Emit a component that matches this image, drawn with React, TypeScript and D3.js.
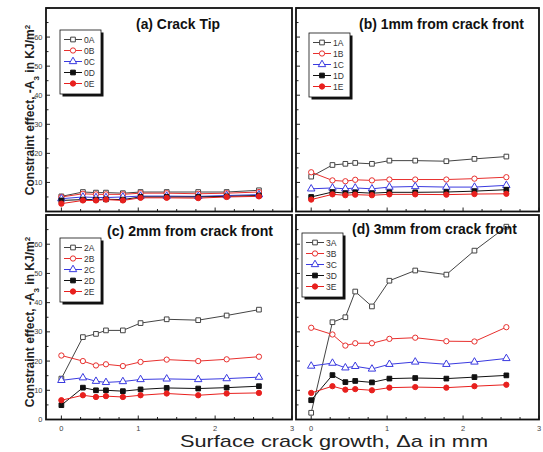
import React from "react";
import * as d3 from "d3";

// crack growth positions (mm), shared by all curves
const growth = [0, 0.28, 0.45, 0.58, 0.8, 1.03, 1.37, 1.78, 2.15, 2.57];

// (a) crack tip
const s0A = [5.2, 6.7, 6.5, 6.5, 6.3, 6.7, 6.7, 6.7, 6.7, 7.3];
const s0B = [5.0, 6.1, 5.9, 5.9, 5.9, 6.3, 6.3, 6.1, 6.3, 6.7];
const s0C = [4.4, 5.0, 4.8, 4.8, 5.0, 5.3, 5.3, 5.2, 5.5, 5.8];
const s0D = [3.8, 4.1, 4.1, 4.2, 4.1, 5.0, 5.0, 5.0, 5.2, 5.5];
const s0E = [2.7, 3.8, 3.8, 4.1, 3.8, 4.7, 4.7, 4.6, 5.0, 5.2];

// (b) 1mm from crack front
const s1A = [12.0, 16.0, 16.4, 16.7, 16.4, 17.5, 17.5, 17.3, 18.1, 18.9];
const s1B = [13.5, 10.7, 10.4, 10.9, 10.7, 11.0, 11.0, 11.0, 11.3, 11.8];
const s1C = [7.8, 8.1, 7.8, 8.1, 7.8, 8.4, 8.6, 8.4, 8.4, 9.0];
const s1D = [5.0, 6.7, 6.3, 6.6, 6.3, 6.6, 6.6, 6.7, 7.0, 7.5];
const s1E = [4.1, 5.9, 5.6, 5.8, 5.6, 5.9, 5.9, 5.8, 6.0, 6.1];

// (c) 2mm from crack front
const s2A = [14.0, 28.2, 29.3, 30.5, 30.5, 33.0, 34.3, 34.0, 35.6, 37.6];
const s2B = [21.9, 20.0, 18.5, 18.9, 18.3, 19.7, 20.5, 20.0, 20.6, 21.5];
const s2C = [13.4, 14.3, 13.1, 12.7, 13.0, 13.7, 13.9, 13.7, 14.0, 14.5];
const s2D = [4.9, 10.9, 10.0, 10.0, 9.7, 10.3, 10.8, 10.6, 10.9, 11.4];
const s2E = [6.6, 8.3, 7.7, 8.0, 7.7, 8.3, 8.9, 8.3, 8.9, 9.1];

// (d) 3mm from crack front
const s3A = [2.3, 33.3, 35.0, 43.8, 38.7, 47.5, 51.0, 49.6, 57.8, 66.0];
const s3B = [31.4, 29.1, 25.3, 26.1, 26.1, 27.6, 28.0, 26.8, 26.7, 31.6];
const s3C = [18.3, 19.3, 17.7, 18.2, 17.3, 18.9, 19.7, 18.9, 19.7, 20.9];
const s3D = [6.6, 15.2, 12.8, 13.2, 12.7, 14.0, 14.2, 14.0, 14.5, 15.1];
const s3E = [9.1, 11.4, 10.2, 10.4, 10.0, 10.9, 11.1, 10.9, 11.4, 11.9];

const xTicks = [0, 1, 2, 3];

const styles = [
  { color: "#444", symbol: d3.symbolSquare, open: true },
  { color: "#e8302e", symbol: d3.symbolCircle, open: true },
  { color: "#3a3ae0", symbol: d3.symbolTriangle, open: true },
  { color: "#111", symbol: d3.symbolSquare, open: false },
  { color: "#e8201e", symbol: d3.symbolCircle, open: false },
];

const panels = [
  {
    title: "(a) Crack Tip", tx: 136, ty: 29, tw: 84,
    x0: 46, x1: 292, y0: 211.5, y1: 8,
    names: ["0A", "0B", "0C", "0D", "0E"], series: [s0A, s0B, s0C, s0D, s0E],
    legend: [60, 30], yLabels: [10, 20, 30, 40, 50, 60], xLabels: false,
  },
  {
    title: "(b) 1mm from crack front", tx: 359, ty: 29, tw: 165,
    x0: 296, x1: 539, y0: 211.5, y1: 8,
    names: ["1A", "1B", "1C", "1D", "1E"], series: [s1A, s1B, s1C, s1D, s1E],
    legend: [309, 33], yLabels: [], xLabels: false,
  },
  {
    title: "(c) 2mm from crack front", tx: 107, ty: 236, tw: 166,
    x0: 46, x1: 292, y0: 419.5, y1: 215,
    names: ["2A", "2B", "2C", "2D", "2E"], series: [s2A, s2B, s2C, s2D, s2E],
    legend: [60, 238], yLabels: [0, 10, 20, 30, 40, 50, 60], xLabels: true,
  },
  {
    title: "(d) 3mm from crack front", tx: 352, ty: 234, tw: 165,
    x0: 296, x1: 539, y0: 419.5, y1: 215,
    names: ["3A", "3B", "3C", "3D", "3E"], series: [s3A, s3B, s3C, s3D, s3E],
    legend: [302, 233], yLabels: [], xLabels: true,
  },
];

const font = "'Liberation Sans', Arial, sans-serif";

function Marker({ x, y, st }: any) {
  const d = d3.symbol().type(st.symbol).size(st.symbol === d3.symbolTriangle ? 24 : 22)();
  return (
    <path
      d={d || ""}
      transform={`translate(${x},${y})`}
      fill={st.open ? "#fff" : st.color}
      stroke={st.color}
      strokeWidth={1}
    />
  );
}

function Panel({ p }: any) {
  const x = d3.scaleLinear().domain([-0.2, 3]).range([p.x0, p.x1]);
  const y = d3.scaleLinear().domain([0, 70]).range([p.y0, p.y1]);
  const line = d3.line<number>().x((_, i) => x(growth[i])).y((d) => y(d));
  const minorX = d3.range(0, 3.01, 0.25);
  const minorY = d3.range(0, 70.1, 5);
  const [lx, ly] = p.legend;
  const rowH = 11;

  return (
    <g>
      <defs>
        <clipPath id={`clip-${p.names[0]}`}>
          <rect x={p.x0} y={p.y1} width={p.x1 - p.x0} height={p.y0 - p.y1} />
        </clipPath>
      </defs>
      {/* ticks, drawn inward */}
      {minorX.map((t) => (
        <line key={"mx" + t} x1={x(t)} x2={x(t)} y1={p.y0} y2={p.y0 - (t % 1 === 0 ? 4 : 2.5)} stroke="#222" strokeWidth={1} />
      ))}
      {minorY.map((t) => (
        <line key={"my" + t} x1={p.x0} x2={p.x0 + (t % 10 === 0 ? 4 : 2.5)} y1={y(t)} y2={y(t)} stroke="#222" strokeWidth={1} />
      ))}
      {p.yLabels.map((t: number) => (
        <text key={"yl" + t} x={p.x0 - 3.5} y={y(t) + 2.6} fontSize={7.5} fill="#444" textAnchor="end" fontFamily={font}>
          {t}
        </text>
      ))}
      {p.xLabels &&
        xTicks.map((t) => (
          <text key={"xl" + t} x={x(t)} y={p.y0 + 11} fontSize={7.5} fill="#444" textAnchor="middle" fontFamily={font}>
            {t}
          </text>
        ))}
      {/* curves */}
      <g clipPath={`url(#clip-${p.names[0]})`}>
        {p.series.map((s: number[], k: number) => (
          <path key={"l" + k} d={line(s) || ""} fill="none" stroke={styles[k].color} strokeWidth={1} />
        ))}
        {p.series.map((s: number[], k: number) =>
          s.map((v, i) => <Marker key={`m${k}-${i}`} x={x(growth[i])} y={y(v)} st={styles[k]} />)
        )}
      </g>
      <rect x={p.x0} y={p.y1} width={p.x1 - p.x0} height={p.y0 - p.y1} fill="none" stroke="#111" strokeWidth={1.8} />
      <text x={p.tx} y={p.ty} fontSize={15} fontWeight="bold" fontFamily={font} fill="#111" textLength={p.tw} lengthAdjust="spacingAndGlyphs">
        {p.title}
      </text>
      {/* legend with drop shadow */}
      <rect x={lx + 2.5} y={ly + 2.5} width={41} height={rowH * 5 + 9} fill="#111" />
      <rect x={lx} y={ly} width={41} height={rowH * 5 + 9} fill="#fff" stroke="#111" strokeWidth={0.8} />
      {p.names.map((n: string, k: number) => {
        const yy = ly + 9.5 + k * rowH;
        return (
          <g key={"lg" + n}>
            <line x1={lx + 4} x2={lx + 22} y1={yy} y2={yy} stroke={styles[k].color} strokeWidth={1} />
            <Marker x={lx + 13} y={yy} st={styles[k]} />
            <text x={lx + 24} y={yy + 3} fontSize={8.5} fill="#333" fontFamily={font}>
              {n}
            </text>
          </g>
        );
      })}
    </g>
  );
}

function YLabel({ cy }: { cy: number }) {
  return (
    <text
      transform={`translate(34,${cy}) rotate(-90)`}
      textAnchor="middle"
      fontSize={12}
      fontWeight="bold"
      fontFamily={font}
      fill="#222"
    >
      Constraint effect, -A<tspan baselineShift="sub" fontSize={8}>3</tspan> in KJ/m
      <tspan baselineShift="super" fontSize={8}>2</tspan>
    </text>
  );
}

export default function App() {
  return (
    <svg width={543} height={452} style={{ position: "absolute", left: 0, top: 0, background: "#fff" }}>
      <rect width={543} height={452} fill="#fff" />
      {panels.map((p) => (
        <Panel key={p.title} p={p} />
      ))}
      <YLabel cy={110} />
      <YLabel cy={322} />
      <text x={334} y={447} textAnchor="middle" fontSize={17} fontFamily={font} fill="#222" textLength={308} lengthAdjust="spacingAndGlyphs">
        Surface crack growth, Δa in mm
      </text>
    </svg>
  );
}
